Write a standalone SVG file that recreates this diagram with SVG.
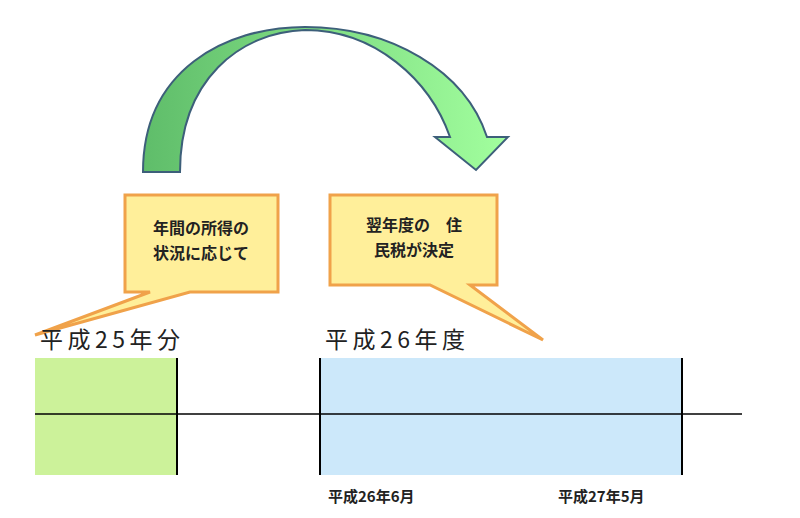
<svg xmlns="http://www.w3.org/2000/svg" width="800" height="518" viewBox="0 0 800 518">
<defs>
<linearGradient id="g" x1="0" y1="0" x2="1" y2="0"><stop offset="0" stop-color="#5fbd6a"/><stop offset="1" stop-color="#a2ff9e"/></linearGradient>
<style>
.t{font-family:"Noto Sans CJK JP","Liberation Sans",sans-serif;fill:#222}
.c{fill:#ffef9a;stroke:#f0a24a;stroke-width:3}
.v{stroke:#000;stroke-width:2}
</style>
</defs>
<rect width="800" height="518" fill="#fff"/>
<g id="arrow"><path d="M143,172 C143,70 225,27 305,27 C390,27 465,70 487,137 L508,137 L476,170 L435,137 L450,137 C430,80 375,30 305,30 C240,32 180,80 180,172 Z" fill="url(#g)" stroke="#3d5f7a" stroke-width="2"/></g>
<g id="callout1"><path class="c" d="M125,195 H278 V292 H190 L35,335 L150,292 H125 Z"/>
<text class="t" x="201" y="234" font-size="16" text-anchor="middle" font-weight="bold">年間の所得の</text>
<text class="t" x="201" y="259" font-size="16" text-anchor="middle" font-weight="bold">状況に応じて</text></g>
<g id="callout2"><path class="c" d="M330,195 H497 V285 H470 L543,340 L430,285 H330 Z"/>
<text class="t" x="414" y="231" font-size="16" text-anchor="middle" font-weight="bold">翌年度の　住</text>
<text class="t" x="414" y="256" font-size="16" text-anchor="middle" font-weight="bold">民税が決定</text></g>
<g id="labels">
<text class="t" x="40" y="348" font-size="23" textLength="140">平成25年分</text>
<text class="t" x="325" y="348" font-size="23" textLength="140">平成26年度</text>
<text class="t" x="328" y="502" font-size="15" font-weight="bold">平成26年6月</text>
<text class="t" x="558" y="502" font-size="15" font-weight="bold">平成27年5月</text>
</g>
<g id="timeline">
<rect x="35" y="358" width="142" height="117" fill="#ccf29a"/>
<rect x="320" y="358" width="362" height="117" fill="#cce8fa"/>
<line x1="35" y1="414" x2="742" y2="414" stroke="#000" stroke-width="1.5"/>
<line class="v" x1="177" y1="358" x2="177" y2="475"/>
<line class="v" x1="320" y1="358" x2="320" y2="475"/>
<line class="v" x1="682" y1="358" x2="682" y2="475"/>
</g>
</svg>
